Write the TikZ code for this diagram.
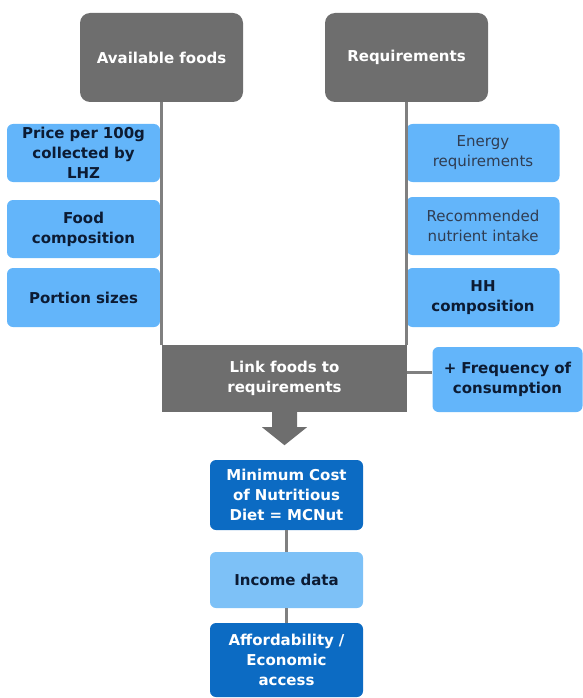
\documentclass[tikz,border=0pt]{standalone}
\usepackage{fontspec}
\setmainfont{DejaVu Sans}

\newcommand\boxwidth{153pt}
\newcommand\headwidth{163pt}
\newcommand\txtwidth{150pt}
\newcommand\boxfont{\fontsize{15}{20}\selectfont}

\definecolor{headgrey}{HTML}{6E6E6E}
\definecolor{linegrey}{HTML}{808080}
\definecolor{lightblue}{HTML}{63B5FA}
\definecolor{paleblue}{HTML}{7DC1F7}
\definecolor{darkblue}{HTML}{0C6BC3}
\definecolor{navytext}{HTML}{0C1B33}

\tikzset{
  headbox/.style={font=\boxfont\bfseries, fill=headgrey, text=white, rounded corners=10pt,
    minimum width=\headwidth, minimum height=89pt, inner sep=0pt},
  inbox/.style={font=\boxfont\bfseries, fill=lightblue, text=navytext, rounded corners=6pt,
    minimum width=\boxwidth, text width=\txtwidth, align=center, inner sep=0pt},
  plainbox/.style={inbox, font=\boxfont, text=navytext!85!white},
  dietbox/.style={inbox, fill=darkblue, text=white},
  conn/.style={draw=linegrey, line width=2.2pt}
}

\begin{document}
\begin{tikzpicture}[x=1pt,y=-1pt]
    \useasboundingbox (0,0) rectangle (583,698);

    \node[headbox] (avail) at (161.5,57.5) {Available foods};
    \node[headbox] (req) at (406.5,57.5) {Requirements};

    \node[inbox,minimum height=58pt] (price) at (83.5,153) {Price per 100g\\ collected by\\ LHZ};
    \node[inbox,minimum height=58pt] (foodcomp) at (83.5,229) {Food\\ composition};
    \node[inbox,minimum height=59pt] (portion) at (83.5,297.5) {Portion sizes};

    \node[plainbox,minimum height=58pt] (energy) at (483,153) {Energy\\ requirements};
    \node[plainbox,minimum height=58pt] (rni) at (483,226) {Recommended\\ nutrient intake};
    \node[inbox,minimum height=59pt] (hh) at (483,297.5) {HH\\ composition};

    \node[font=\boxfont\bfseries,fill=headgrey,text=white,minimum width=245pt,minimum height=67pt,
      text width=200pt,align=center,inner sep=0pt] (link) at (284.5,378.5) {Link foods to\\ requirements};
    \node[inbox,minimum width=149pt,minimum height=65pt] (freq) at (507.5,379.5) {+ Frequency of\\ consumption};

    \node[dietbox,minimum height=70pt] (mcnut) at (286.5,495) {Minimum Cost\\ of Nutritious\\ Diet = MCNut};
    \node[inbox,fill=paleblue,minimum height=56pt] (income) at (286.5,580) {Income data};
    \node[dietbox,minimum height=74pt] (afford) at (286.5,660) {Affordability /\\ Economic\\ access};

    % connectors
    \draw[conn] (avail.south) -- (avail.south |- link.north);
    \draw[conn] (req.south) -- (req.south |- link.north);
    \draw[conn] ([yshift=6pt]link.east) -- ([yshift=6pt]link.east -| freq.west);
    \draw[conn] (mcnut.south) -- (income.north);
    \draw[conn] (income.south) -- (afford.north);

    % block arrow
    \fill[headgrey] ([xshift=-12.5pt]link.south) -- ([xshift=-12.5pt,yshift=-15pt]link.south)
      -- ([xshift=-22.5pt,yshift=-15pt]link.south) -- ([yshift=-33pt]link.south)
      -- ([xshift=22.5pt,yshift=-15pt]link.south) -- ([xshift=12.5pt,yshift=-15pt]link.south)
      -- ([xshift=12.5pt]link.south) -- cycle;
\end{tikzpicture}
\end{document}
